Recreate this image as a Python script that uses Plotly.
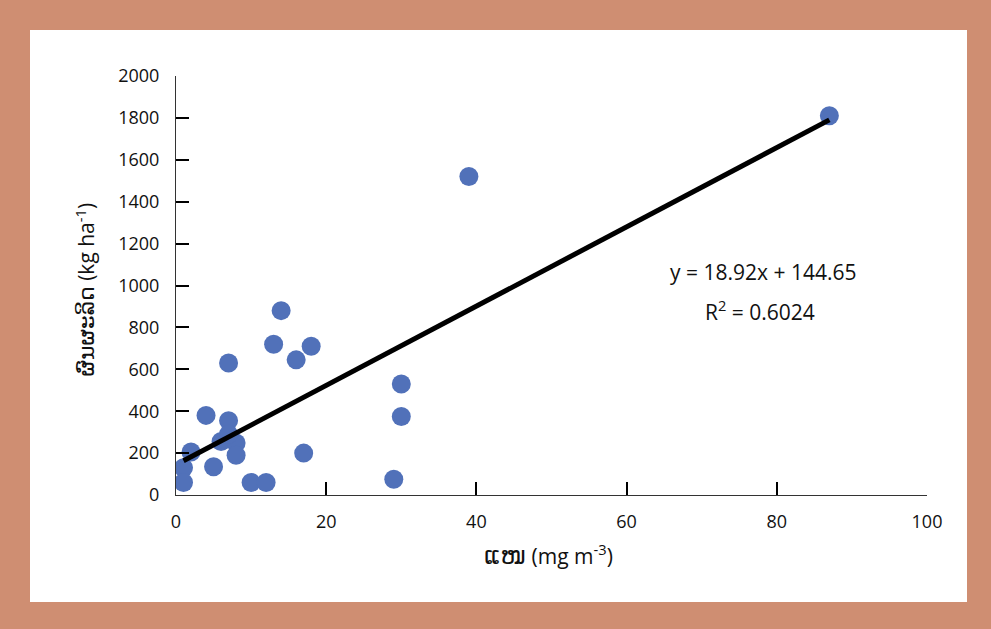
import plotly.graph_objects as go
import numpy as np

# Data
x_vals = [87, 39, 14, 13, 16, 18, 7, 30, 30, 4, 7, 2, 6, 8, 7, 8, 17, 1, 5, 1, 10, 12, 29]
y_vals = [1810, 1520, 880, 720, 645, 710, 630, 530, 375, 380, 355, 205, 255, 248, 290, 190, 200, 130, 135, 60, 60, 60, 75]

slope = 18.92
intercept = 144.65
r2 = 0.6024

x_ticks = [0, 20, 40, 60, 80, 100]
y_ticks = list(range(0, 2001, 200))

frame_color = "#CF8E72"
marker_color = "#5171B9"
font_family = "Open Sans, DejaVu Sans, sans-serif"

fig = go.Figure()

fig.add_trace(go.Scatter(
    x=x_vals, y=y_vals, mode="markers",
    marker=dict(size=19, color=marker_color, line=dict(width=0)),
    showlegend=False, hoverinfo="x+y",
))

xl = np.array([min(x_vals), max(x_vals)])
fig.add_trace(go.Scatter(
    x=xl, y=slope * xl + intercept, mode="lines",
    line=dict(color="black", width=5),
    showlegend=False, hoverinfo="skip",
))

W, H = 991, 629
L, R, T, B = 176, 64, 76, 134
pw, ph = W - L - R, H - T - B

def px2paper_x(p):
    return (p - L) / pw

def px2paper_y(p):
    return (H - B - p) / ph

fig.add_shape(type="rect", xref="paper", yref="paper",
              x0=px2paper_x(30), x1=px2paper_x(967),
              y0=px2paper_y(602), y1=px2paper_y(30),
              fillcolor="white", line=dict(width=0), layer="below")

fig.add_annotation(x=78.2, y=1063, xref="x", yref="y",
                   text=f"y = {slope}x + {intercept}", showarrow=False,
                   font=dict(size=21, color="#111", family=font_family))
fig.add_annotation(x=77.8, y=882, xref="x", yref="y",
                   text=f"R<sup>2</sup> = {r2}", showarrow=False,
                   font=dict(size=21, color="#111", family=font_family))

fig.add_annotation(x=px2paper_x(67), y=px2paper_y(290), xref="paper", yref="paper",
                   text='<span style="font-size:22px">ຜົນຜະລິດ</span> (kg ha<sup>-1</sup>)',
                   textangle=-90, showarrow=False,
                   font=dict(size=21, color="#111", family=font_family))
fig.add_annotation(x=px2paper_x(548), y=px2paper_y(573), xref="paper", yref="paper",
                   text='<span style="font-size:25px">ແໜ</span> (mg m<sup>-3</sup>)', showarrow=False,
                   font=dict(size=21, color="#111", family=font_family))

fig.update_xaxes(range=[0, 100], tickvals=x_ticks, ticks="inside", ticklen=13,
                 tickwidth=1.5, tickcolor="black", showline=True, linecolor="#333",
                 linewidth=1, showgrid=False, zeroline=False, ticklabelstandoff=10,
                 tickfont=dict(size=18, color="#111", family=font_family))
fig.update_yaxes(range=[0, 2000], tickvals=y_ticks, ticks="inside", ticklen=13,
                 tickwidth=1.5, tickcolor="black", showline=True, linecolor="#333",
                 linewidth=1, showgrid=False, zeroline=False, ticklabelstandoff=12,
                 tickfont=dict(size=18, color="#111", family=font_family))

fig.update_layout(width=W, height=H, margin=dict(l=L, r=R, t=T, b=B),
                  paper_bgcolor=frame_color, plot_bgcolor="white",
                  font=dict(family=font_family))

fig.write_html("out.html", config={"displayModeBar": False})

# remove the browser's default page margin so the figure sits at (0, 0)
with open("out.html", encoding="utf-8") as f:
    html = f.read()
html = html.replace("<body>", '<body style="margin:0;padding:0;overflow:hidden">', 1)
with open("out.html", "w", encoding="utf-8") as f:
    f.write(html)
